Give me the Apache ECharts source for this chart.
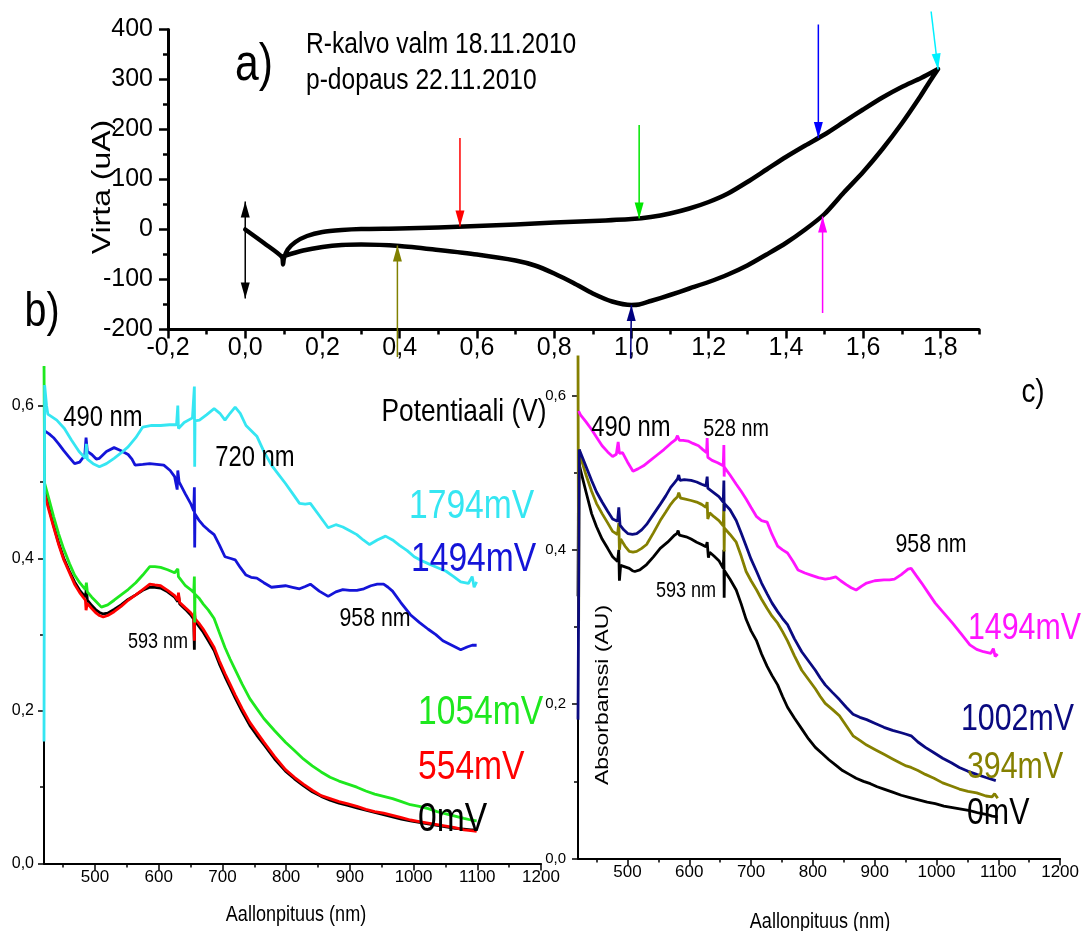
<!DOCTYPE html>
<html>
<head>
<meta charset="utf-8">
<script src="https://cdn.jsdelivr.net/npm/echarts@6/dist/echarts.min.js"></script>
<style>
  html, body { margin: 0; padding: 0; background: #fff; }
  #chart { width: 1082px; height: 931px; }
</style>
</head>
<body>
<div id="chart"></div>
<script>
// ---- a) cyclic voltammogram: potential (V) and current (uA), in scan order ----
const cvPotential = [0, 0.05, 0.095, 0.098, 0.1, 0.11, 0.13, 0.16, 0.2, 0.25, 0.3, 0.4, 0.5, 0.6, 0.7, 0.8, 0.9, 1.0, 1.05, 1.1, 1.15, 1.2, 1.25, 1.3, 1.35, 1.4, 1.45, 1.5, 1.55, 1.6, 1.65, 1.7, 1.75, 1.794,
  1.77, 1.747, 1.7, 1.65, 1.6, 1.55, 1.5, 1.45, 1.4, 1.35, 1.3, 1.25, 1.2, 1.15, 1.1, 1.05, 1.02, 1.0, 0.95, 0.9, 0.85, 0.8, 0.75, 0.7, 0.6, 0.5, 0.4, 0.3, 0.25, 0.2, 0.15, 0.1];
const cvCurrent = [0, -28, -55, -70, -58, -40, -25, -13, -5, -1, 1, 2, 4, 7, 10, 14, 17, 21, 25, 32, 42, 55, 72, 95, 120, 145, 168, 190, 215, 240, 264, 285, 303, 321,
  293, 265, 212, 161, 115, 74, 31, 0, -27, -50, -72, -90, -105, -118, -131, -143, -150, -151, -144, -128, -107, -88, -72, -62, -50, -41, -33, -30, -31, -35, -42, -53];

// Arrows marking the potentials where spectra were taken
const arrowFromX = [0, 0.556, 0.394, 1.02, 0.998, 1.484, 1.495, 1.776];
const arrowFromY = [-138, 183, -255, 209, -258, 410, -167, 436];
const arrowToX   = [0, 0.556, 0.394, 1.02, 1.0, 1.484, 1.495, 1.794];
const arrowToY   = [56, 6, -32, 22, -151, 183, 26, 320];
const arrowBothEnds = [true, false, false, false, false, false, false, false];
const arrowColors = ['#000000', '#ff0000', '#808000', '#00e600', '#000080', '#0000ff', '#ff00ff', '#00f0ff'];

// ---- axis ticks ----
const cvPotTicks = [-0.2, 0, 0.2, 0.4, 0.6, 0.8, 1.0, 1.2, 1.4, 1.6, 1.8];
const cvPotMinor = [-0.1, 0.1, 0.3, 0.5, 0.7, 0.9, 1.1, 1.3, 1.5, 1.7, 1.9];
const cvCurTicks = [-200, -100, 0, 100, 200, 300, 400];
const cvCurMinor = [-150, -50, 50, 150, 250, 350];
const wlTicks = [500, 600, 700, 800, 900, 1000, 1100, 1200];
const wlMinor = [450, 550, 650, 750, 850, 950, 1050, 1150];
const absTicks = [0, 0.2, 0.4, 0.6];
const absMinor = [0.1, 0.3, 0.5];

// ---- b) absorption spectra [wavelength nm, absorbance AU] ----
const bSpec0 = [[421,0.49],[428,0.465],[435,0.443],[443,0.42],[451,0.4],[460,0.383],[468,0.369],[476,0.358],[485,0.349],[486.5,0.36],[488,0.345],[495,0.338],[502,0.332],[507,0.329],[513,0.327],[520,0.328],[530,0.333],[541,0.339],[552,0.346],[564,0.352],[575,0.358],[586,0.362],[594,0.362],[603,0.361],[614,0.356],[625,0.349],[630,0.343],[631,0.352],[633,0.34],[642,0.333],[650,0.326],[655,0.32],[656,0.28],[656.5,0.325],[657,0.318],[663,0.311],[670,0.303],[678,0.292],[687,0.279],[695,0.262],[704,0.245],[712,0.231],[720,0.217],[731,0.199],[743,0.181],[754,0.168],[765,0.156],[782,0.137],[799,0.121],[813,0.111],[827,0.102],[841,0.094],[855,0.088],[869,0.083],[883,0.079],[897,0.076],[911,0.073],[925,0.07],[939,0.067],[953,0.064],[967,0.061],[981,0.058],[995,0.056],[1009,0.054],[1023,0.052],[1037,0.05],[1051,0.048],[1065,0.046],[1079,0.045],[1090,0.044],[1099,0.044]];
const bSpec554 = [[421,0.484],[428,0.462],[435,0.441],[443,0.418],[451,0.398],[460,0.381],[468,0.366],[476,0.355],[485,0.345],[486,0.332],[488,0.341],[495,0.334],[502,0.328],[507,0.325],[513,0.323],[520,0.325],[530,0.33],[541,0.337],[552,0.345],[564,0.352],[575,0.359],[586,0.366],[594,0.365],[603,0.364],[614,0.358],[625,0.351],[630,0.345],[631,0.355],[633,0.342],[642,0.335],[650,0.329],[655,0.323],[656,0.292],[656.5,0.33],[657,0.321],[663,0.315],[670,0.307],[678,0.296],[687,0.283],[695,0.266],[704,0.249],[712,0.235],[720,0.221],[731,0.203],[743,0.185],[754,0.172],[765,0.159],[782,0.14],[799,0.123],[813,0.113],[827,0.104],[841,0.096],[855,0.089],[869,0.085],[883,0.081],[897,0.078],[911,0.075],[925,0.071],[939,0.068],[953,0.066],[967,0.063],[981,0.06],[995,0.057],[1009,0.055],[1023,0.053],[1037,0.051],[1051,0.049],[1065,0.047],[1079,0.044],[1090,0.043],[1099,0.042]];
const bSpec1054 = [[420,0.66],[421,0.498],[428,0.477],[435,0.455],[443,0.432],[451,0.412],[460,0.393],[468,0.378],[476,0.368],[485,0.359],[486.5,0.368],[488,0.356],[495,0.349],[502,0.343],[510,0.336],[520,0.339],[530,0.345],[541,0.352],[552,0.359],[564,0.368],[575,0.378],[586,0.389],[594,0.389],[603,0.388],[614,0.385],[625,0.381],[630,0.386],[631,0.376],[642,0.364],[650,0.359],[655,0.355],[656,0.376],[656.5,0.316],[657,0.353],[663,0.348],[670,0.34],[678,0.332],[687,0.321],[695,0.303],[704,0.283],[712,0.268],[720,0.254],[731,0.235],[743,0.216],[754,0.203],[765,0.19],[782,0.174],[799,0.159],[813,0.148],[827,0.137],[841,0.128],[855,0.12],[869,0.113],[883,0.108],[897,0.104],[911,0.1],[925,0.095],[939,0.091],[953,0.088],[967,0.085],[981,0.081],[995,0.077],[1009,0.075],[1023,0.072],[1037,0.068],[1051,0.065],[1065,0.062],[1079,0.059],[1090,0.057],[1099,0.056]];
const bSpec1494 = [[421,0.567],[428,0.563],[435,0.558],[443,0.55],[451,0.541],[460,0.532],[468,0.524],[476,0.526],[484,0.535],[486,0.558],[488,0.54],[495,0.536],[502,0.53],[507,0.531],[518,0.54],[530,0.545],[541,0.541],[552,0.536],[558,0.53],[563,0.522],[575,0.523],[586,0.524],[597,0.523],[608,0.522],[618,0.515],[625,0.507],[629,0.49],[630,0.515],[632,0.5],[642,0.484],[650,0.472],[655,0.462],[656,0.493],[656.5,0.414],[657,0.458],[663,0.45],[670,0.443],[678,0.437],[687,0.431],[695,0.418],[704,0.402],[712,0.4],[720,0.398],[728,0.388],[737,0.378],[745,0.375],[754,0.374],[765,0.368],[777,0.362],[788,0.363],[799,0.364],[810,0.362],[821,0.36],[830,0.363],[838,0.366],[852,0.357],[866,0.35],[878,0.356],[889,0.359],[900,0.358],[911,0.358],[922,0.36],[933,0.364],[943,0.366],[953,0.366],[960,0.362],[967,0.357],[980,0.342],[995,0.326],[1009,0.316],[1023,0.307],[1035,0.3],[1046,0.292],[1060,0.286],[1074,0.28],[1085,0.284],[1092,0.286],[1099,0.286]];
const bSpec1794 = [[420,0.16],[421,0.627],[424,0.6],[426,0.589],[440,0.581],[452,0.57],[463,0.555],[475,0.54],[485,0.531],[486.5,0.55],[488,0.53],[497,0.524],[507,0.52],[518,0.524],[530,0.531],[541,0.538],[552,0.546],[564,0.558],[575,0.572],[589,0.574],[603,0.574],[617,0.575],[628,0.575],[630,0.6],[631,0.57],[640,0.578],[653,0.584],[655,0.584],[656,0.625],[656.5,0.52],[657,0.58],[664,0.581],[675,0.588],[687,0.596],[696,0.59],[704,0.581],[712,0.59],[720,0.598],[728,0.59],[737,0.574],[754,0.56],[765,0.54],[777,0.522],[788,0.51],[799,0.498],[810,0.485],[821,0.472],[830,0.471],[838,0.472],[852,0.456],[866,0.44],[878,0.444],[889,0.441],[900,0.436],[911,0.431],[921,0.424],[931,0.418],[943,0.424],[956,0.429],[967,0.424],[978,0.417],[990,0.41],[1001,0.402],[1012,0.397],[1023,0.393],[1037,0.388],[1051,0.383],[1063,0.376],[1074,0.369],[1086,0.367],[1092,0.376],[1095,0.362],[1099,0.369]];

// ---- c) absorption spectra [wavelength nm, absorbance AU] ----
const cSpec0 = [[420,0.34],[421,0.52],[423,0.507],[433,0.475],[442,0.447],[450,0.43],[459,0.414],[468,0.402],[476,0.391],[484,0.385],[486,0.4],[487,0.36],[489,0.38],[496,0.378],[503,0.376],[508,0.373],[512,0.372],[520,0.374],[531,0.381],[542,0.391],[553,0.402],[565,0.41],[576,0.419],[580,0.421],[582,0.425],[584,0.419],[587,0.419],[595,0.417],[603,0.414],[612,0.41],[620,0.407],[627,0.404],[629,0.41],[631,0.39],[633,0.397],[640,0.392],[648,0.386],[655,0.376],[656,0.4],[656.5,0.338],[657,0.373],[666,0.362],[676,0.348],[684,0.33],[692,0.31],[700,0.295],[709,0.282],[717,0.265],[726,0.249],[734,0.237],[743,0.225],[751,0.21],[759,0.196],[770,0.182],[782,0.168],[793,0.155],[804,0.144],[815,0.136],[826,0.128],[837,0.121],[848,0.114],[859,0.109],[870,0.104],[882,0.1],[893,0.097],[904,0.093],[915,0.09],[929,0.086],[943,0.082],[957,0.079],[971,0.076],[985,0.073],[998,0.071],[1012,0.068],[1026,0.066],[1040,0.064],[1054,0.062],[1068,0.059],[1082,0.057],[1090,0.055],[1099,0.054]];
const cSpec394 = [[420,0.66],[421,0.298],[422,0.53],[424,0.521],[433,0.497],[442,0.476],[450,0.46],[459,0.447],[468,0.435],[476,0.424],[484,0.42],[486,0.435],[487,0.4],[489,0.414],[496,0.405],[503,0.398],[509,0.397],[515,0.398],[523,0.402],[531,0.407],[542,0.422],[553,0.438],[562,0.449],[570,0.459],[576,0.465],[581,0.469],[583,0.474],[586,0.467],[592,0.466],[603,0.464],[612,0.462],[620,0.459],[627,0.455],[629,0.462],[630,0.44],[633,0.448],[640,0.443],[648,0.438],[655,0.431],[656,0.46],[656.5,0.398],[657,0.428],[666,0.42],[676,0.41],[684,0.392],[692,0.372],[700,0.36],[709,0.348],[717,0.336],[726,0.324],[734,0.314],[743,0.305],[751,0.294],[759,0.282],[770,0.263],[782,0.244],[793,0.232],[804,0.22],[812,0.21],[820,0.201],[832,0.193],[843,0.185],[854,0.172],[865,0.159],[876,0.153],[887,0.147],[901,0.141],[915,0.135],[929,0.129],[943,0.123],[951,0.12],[959,0.118],[970,0.114],[982,0.109],[996,0.104],[1010,0.098],[1024,0.094],[1037,0.09],[1051,0.087],[1065,0.085],[1080,0.081],[1090,0.08],[1094,0.084],[1099,0.078]];
const cSpec1002 = [[420,0.18],[421,0.33],[422,0.53],[424,0.528],[433,0.508],[442,0.49],[450,0.475],[459,0.462],[468,0.45],[476,0.44],[484,0.437],[486,0.455],[488,0.432],[494,0.426],[501,0.421],[508,0.42],[515,0.421],[523,0.426],[531,0.433],[542,0.446],[553,0.459],[562,0.47],[570,0.481],[576,0.487],[581,0.492],[583,0.497],[585,0.49],[592,0.491],[603,0.49],[612,0.488],[620,0.485],[627,0.483],[629,0.495],[630,0.48],[633,0.478],[640,0.474],[648,0.469],[655,0.462],[656,0.49],[656.5,0.45],[657,0.46],[666,0.452],[676,0.438],[684,0.422],[692,0.405],[700,0.388],[709,0.372],[717,0.357],[726,0.343],[734,0.331],[743,0.32],[751,0.311],[759,0.303],[770,0.285],[782,0.268],[793,0.256],[804,0.244],[812,0.234],[820,0.225],[832,0.215],[843,0.206],[854,0.196],[865,0.187],[876,0.183],[887,0.18],[901,0.175],[915,0.17],[929,0.166],[943,0.163],[951,0.161],[959,0.159],[970,0.151],[982,0.144],[996,0.137],[1010,0.13],[1024,0.124],[1037,0.118],[1051,0.113],[1065,0.109],[1080,0.105],[1096,0.101]];
const cSpec1494 = [[421,0.58],[424,0.575],[433,0.566],[442,0.556],[450,0.546],[459,0.535],[468,0.527],[476,0.521],[482,0.524],[485,0.54],[487,0.525],[492,0.526],[500,0.514],[509,0.502],[517,0.505],[526,0.509],[537,0.516],[548,0.523],[559,0.53],[570,0.538],[578,0.543],[581,0.548],[584,0.542],[590,0.542],[598,0.541],[606,0.538],[615,0.535],[622,0.53],[628,0.526],[629,0.545],[630,0.52],[633,0.52],[637,0.516],[646,0.513],[655,0.509],[656,0.536],[656.5,0.495],[657,0.507],[666,0.497],[676,0.485],[684,0.476],[692,0.466],[700,0.455],[709,0.443],[717,0.438],[726,0.436],[734,0.42],[743,0.405],[751,0.4],[759,0.396],[768,0.385],[776,0.374],[787,0.37],[798,0.367],[809,0.364],[820,0.362],[828,0.363],[837,0.365],[845,0.36],[854,0.355],[862,0.351],[870,0.348],[879,0.353],[887,0.357],[900,0.36],[915,0.361],[924,0.361],[932,0.362],[943,0.368],[954,0.375],[959,0.376],[967,0.367],[976,0.357],[987,0.344],[998,0.331],[1012,0.318],[1026,0.305],[1040,0.291],[1054,0.277],[1065,0.271],[1076,0.268],[1088,0.266],[1092,0.272],[1095,0.262],[1099,0.265]];

// ---- drawing ----
const FONT = "'Liberation Sans', Arial, sans-serif";
const SQUEEZE = 0.82;   // condensed lettering used throughout the figure
const commaFmt = v => v.toFixed(1).replace('.', ',');

function valueAxis(gridIndex, position, min, max, ticks, o) {
  return {
    type: 'value', gridIndex, position, min, max,
    axisLine: { show: !!o.line, onZero: false, lineStyle: { color: '#000', width: o.lineWidth || 2 } },
    axisTick: { show: true, inside: false, customValues: ticks, length: o.tickLen, lineStyle: { color: '#000', width: o.tickWidth || 2 } },
    axisLabel: o.label ? {
      show: true, customValues: ticks, formatter: o.formatter, color: '#000',
      fontFamily: FONT, fontSize: o.fontSize, margin: o.margin
    } : { show: false },
    splitLine: { show: false }
  };
}

const chart = echarts.init(document.getElementById('chart'), null, { renderer: 'canvas' });

const grids = [
  { left: 168, top: 29.5, width: 811, height: 300 },
  { left: 44, top: 367.5, width: 497, height: 496 },
  { left: 578, top: 357, width: 486, height: 501.5 }
];

const xAxes = [
  valueAxis(0, 'bottom', -0.2, 1.9, cvPotTicks, { line: true, lineWidth: 3, tickLen: 9, tickWidth: 2.5, label: true, formatter: commaFmt, fontSize: 25, margin: 6 }),
  valueAxis(0, 'bottom', -0.2, 1.9, cvPotMinor, { tickLen: 5, tickWidth: 2.5 }),
  valueAxis(1, 'bottom', 420, 1200, wlTicks, { line: true, lineWidth: 2, tickLen: 7, tickWidth: 1.5, label: true, formatter: v => String(v), fontSize: 17, margin: 5 }),
  valueAxis(1, 'bottom', 420, 1200, wlMinor, { tickLen: 4, tickWidth: 1.5 }),
  valueAxis(2, 'bottom', 420, 1200, wlTicks, { line: true, lineWidth: 2, tickLen: 7, tickWidth: 1.5, label: true, formatter: v => String(v), fontSize: 17, margin: 5 }),
  valueAxis(2, 'bottom', 420, 1200, wlMinor, { tickLen: 4, tickWidth: 1.5 })
];
const yAxes = [
  valueAxis(0, 'left', -200, 400, cvCurTicks, { line: true, lineWidth: 3, tickLen: 9, tickWidth: 2.5, label: true, formatter: v => String(v), fontSize: 25, margin: 15 }),
  valueAxis(0, 'left', -200, 400, cvCurMinor, { tickLen: 5, tickWidth: 2.5 }),
  valueAxis(1, 'left', 0, 0.65, absTicks, { line: true, lineWidth: 2, tickLen: 6, tickWidth: 1.5, label: true, formatter: commaFmt, fontSize: 16, margin: 10 }),
  valueAxis(1, 'left', 0, 0.65, absMinor, { tickLen: 4, tickWidth: 1.5 }),
  valueAxis(2, 'left', 0, 0.65, absTicks, { line: true, lineWidth: 2, tickLen: 6, tickWidth: 1.5, label: true, formatter: commaFmt, fontSize: 15, margin: 12 }),
  valueAxis(2, 'left', 0, 0.65, absMinor, { tickLen: 4, tickWidth: 1.5 })
];

function spectrum(name, data, color, gridNo) {
  return {
    name, type: 'line', data, xAxisIndex: gridNo * 2, yAxisIndex: gridNo * 2,
    showSymbol: false, symbol: 'none', clip: true,
    lineStyle: { color, width: 2.8 }, z: 3
  };
}

function arrowHead(tip, from, color) {
  const dx = tip[0] - from[0], dy = tip[1] - from[1];
  const L = Math.hypot(dx, dy) || 1;
  const ux = dx / L, uy = dy / L;
  const hl = 16, hw = 4.5;
  const bx = tip[0] - ux * hl, by = tip[1] - uy * hl;
  return {
    type: 'polygon',
    shape: { points: [tip, [bx - uy * hw, by + ux * hw], [bx + uy * hw, by - ux * hw]] },
    style: { fill: color }
  };
}

const arrowData = arrowFromX.map((x, i) => [x, arrowFromY[i], arrowToX[i], arrowToY[i]]);

const textEls = [];
function addText(text, x, y, size, color, opts = {}) {
  const vertical = !!opts.vertical;
  textEls.push({
    type: 'text', x, y, rotation: vertical ? Math.PI / 2 : 0,
    scaleX: vertical ? 1 : SQUEEZE, scaleY: vertical ? SQUEEZE : 1,
    style: {
      text, fill: color || '#000', fontSize: size, fontFamily: FONT,
      align: opts.align || 'center', verticalAlign: 'middle'
    },
    z: 100
  });
}

// panel letters and annotation
addText('a)', 254, 66, 52, '#000');
addText('b)', 42, 313, 48, '#000');
addText('c)', 1033, 393, 34, '#000');
addText('R-kalvo valm 18.11.2010', 306, 45, 30, '#000', { align: 'left' });
addText('p-dopaus 22.11.2010', 306, 81, 30, '#000', { align: 'left' });
addText('Potentiaali (V)', 464, 412, 32, '#000');
addText('Virta (uA)', 103, 187, 32, '#000', { vertical: true });
addText('Aallonpituus (nm)', 296, 915, 22, '#000');
addText('Aallonpituus (nm)', 820, 922, 22, '#000');
addText('Absorbanssi (AU)', 603, 695, 23, '#000', { vertical: true });

// b) peak and potential labels
addText('490 nm', 103, 418, 29, '#000');
addText('720 nm', 255, 458, 29, '#000');
addText('958 nm', 375, 619, 26, '#000');
addText('593 nm', 158, 642, 22, '#000');
addText('1794mV', 409, 507, 41, '#35e6f2', { align: 'left' });
addText('1494mV', 411, 560, 41, '#1414d8', { align: 'left' });
addText('1054mV', 418, 713, 41, '#1ee81e', { align: 'left' });
addText('554mV', 418, 768, 41, '#ff0000', { align: 'left' });
addText('0mV', 418, 820, 41, '#000', { align: 'left' });

// c) peak and potential labels
addText('490 nm', 631, 428, 29, '#000');
addText('528 nm', 736, 429, 24, '#000');
addText('958 nm', 931, 545, 26, '#000');
addText('593 nm', 686, 591, 22, '#000');
addText('1494mV', 968, 629, 37, '#ff14ff', { align: 'left' });
addText('1002mV', 961, 720, 37, '#0a0a80', { align: 'left' });
addText('394mV', 967, 768, 37, '#858000', { align: 'left' });
addText('0mV', 967, 814, 37, '#000', { align: 'left' });

const option = {
  backgroundColor: '#fff',
  animation: false,
  grid: grids,
  xAxis: xAxes,
  yAxis: yAxes,
  graphic: { elements: textEls },
  series: [
    {
      name: 'CV', type: 'line', xAxisIndex: 0, yAxisIndex: 0,
      data: cvPotential.map((p, i) => [p, cvCurrent[i]]),
      showSymbol: false, symbol: 'none', smooth: 0.25, clip: false,
      lineStyle: { color: '#000', width: 4.5, join: 'round', cap: 'round' }, z: 3
    },
    {
      name: 'arrows', type: 'custom', xAxisIndex: 0, yAxisIndex: 0, clip: false, z: 4,
      encode: { x: [0, 2], y: [1, 3] },
      data: arrowData,
      renderItem(params, api) {
        const i = params.dataIndex;
        const p0 = api.coord([api.value(0), api.value(1)]);
        const p1 = api.coord([api.value(2), api.value(3)]);
        const color = arrowColors[i];
        const children = [
          { type: 'line', shape: { x1: p0[0], y1: p0[1], x2: p1[0], y2: p1[1] }, style: { stroke: color, lineWidth: 1.5 } },
          arrowHead(p1, p0, color)
        ];
        if (arrowBothEnds[i]) children.push(arrowHead(p0, p1, color));
        return { type: 'group', children };
      }
    },
    spectrum('0mV', bSpec0, '#000000', 1),
    spectrum('554mV', bSpec554, '#ff0000', 1),
    spectrum('1054mV', bSpec1054, '#1ee81e', 1),
    spectrum('1494mV', bSpec1494, '#1414d8', 1),
    spectrum('1794mV', bSpec1794, '#35e6f2', 1),
    spectrum('0mV', cSpec0, '#000000', 2),
    spectrum('394mV', cSpec394, '#858000', 2),
    spectrum('1002mV', cSpec1002, '#0a0a80', 2),
    spectrum('1494mV', cSpec1494, '#ff14ff', 2)
  ]
};

chart.setOption(option);
</script>
</body>
</html>
